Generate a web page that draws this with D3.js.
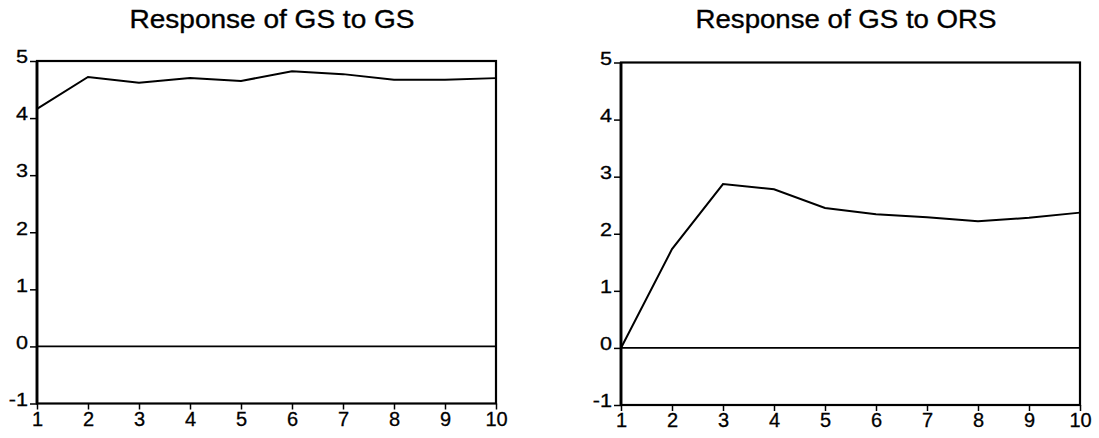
<!DOCTYPE html>
<html>
<head>
<meta charset="utf-8">
<script src="https://cdn.jsdelivr.net/npm/d3@7"></script>
<style>
  html, body { margin: 0; padding: 0; background: #fff; }
  svg { display: block; }
  text { font-family: "Liberation Sans", Arial, Helvetica, sans-serif; fill: #000; }
</style>
</head>
<body>
<svg id="chart" width="1099" height="438"></svg>
<script>
const periods = [1, 2, 3, 4, 5, 6, 7, 8, 9, 10];
const gsToGs = [4.16, 4.72, 4.62, 4.70, 4.65, 4.82, 4.77, 4.67, 4.67, 4.70];
const gsToOrs = [0.0, 1.73, 2.87, 2.78, 2.45, 2.34, 2.29, 2.22, 2.28, 2.37];
const yTicks = [-1, 0, 1, 2, 3, 4, 5];
const titles = ["Response of GS to GS", "Response of GS to ORS"];
const seriesList = [gsToGs, gsToOrs];

const svg = d3.select("#chart");

const panels = [
  { left: 37, right: 496, top: 61, bottom: 403.5, titleX: 272, titleW: 285 },
  { left: 621, right: 1080, top: 62.5, bottom: 405, titleX: 846, titleW: 301 }
];

panels.forEach((p, i) => {
  const x = d3.scaleLinear().domain([1, 10]).range([p.left, p.right]);
  const y = d3.scaleLinear().domain([-1, 5]).range([p.bottom, p.top]);
  const g = svg.append("g");

  // title
  g.append("text")
    .attr("x", p.titleX)
    .attr("y", 28)
    .attr("text-anchor", "middle")
    .style("font-size", "25px")
    .attr("stroke", "#000")
    .attr("stroke-width", 0.35)
    .attr("textLength", p.titleW)
    .attr("lengthAdjust", "spacingAndGlyphs")
    .text(titles[i]);

  // zero line
  g.append("line")
    .attr("x1", x(1)).attr("x2", x(10))
    .attr("y1", y(0)).attr("y2", y(0))
    .attr("stroke", "#000").attr("stroke-width", 1.6);

  // data line
  const line = d3.line().x((d, j) => x(periods[j])).y(d => y(d));
  g.append("path")
    .datum(seriesList[i])
    .attr("d", line)
    .attr("fill", "none")
    .attr("stroke", "#000")
    .attr("stroke-width", 2);

  // frame
  g.append("rect")
    .attr("x", p.left).attr("y", p.top)
    .attr("width", p.right - p.left).attr("height", p.bottom - p.top)
    .attr("fill", "none").attr("stroke", "#000").attr("stroke-width", 2.2);
  // heavier left axis line
  g.append("line")
    .attr("x1", p.left).attr("x2", p.left)
    .attr("y1", p.top).attr("y2", p.bottom)
    .attr("stroke", "#000").attr("stroke-width", 2.8);

  // y axis
  const yAxis = d3.axisLeft(y).tickValues(yTicks).tickSize(7).tickPadding(2).tickFormat(d => String(d));
  const ya = g.append("g").attr("transform", `translate(${p.left},0)`).call(yAxis);
  ya.attr("font-size", null).attr("font-family", null);
  ya.select(".domain").remove();
  ya.selectAll("line").attr("stroke", "#000").attr("stroke-width", 1.5);
  const sx = 1.2;
  ya.selectAll("text")
    .style("font-size", "18px")
    .attr("stroke", "#000")
    .attr("stroke-width", 0.3)
    .attr("x", -9 / sx)
    .attr("transform", `scale(${sx},1)`)
    .attr("dy", "0.1em")
    .attr("fill", "#000");

  // x axis
  const xAxis = d3.axisBottom(x).tickValues(periods).tickSize(6).tickPadding(2).tickFormat(d => String(d));
  const xa = g.append("g").attr("transform", `translate(0,${p.bottom})`).call(xAxis);
  xa.attr("font-size", null).attr("font-family", null);
  xa.select(".domain").remove();
  xa.selectAll("line").attr("stroke", "#000").attr("stroke-width", 1.5);
  xa.selectAll("text")
    .style("font-size", "20px")
    .attr("stroke", "#000")
    .attr("stroke-width", 0.3)
    .attr("fill", "#000");
});
</script>
</body>
</html>
